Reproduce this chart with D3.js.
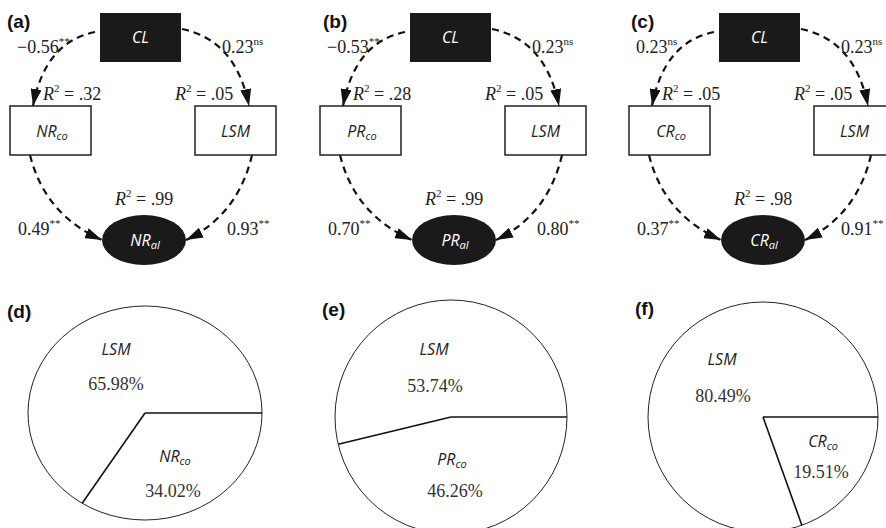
<!DOCTYPE html>
<html><head><meta charset="utf-8">
<script src="https://cdn.jsdelivr.net/npm/d3@7"></script>
<style>body{margin:0;background:#fff} svg{display:block;background:#fff}
.serif{font-family:"Liberation Serif","DejaVu Serif",serif}
.sans{font-family:"Open Sans","Noto Sans","Liberation Sans",sans-serif;font-style:italic}
.bold{font-family:"Liberation Sans",Arial,sans-serif;font-weight:bold}
</style>
</head><body>
<svg id="c" width="886" height="528"></svg>
<script>
// ---- data ----
const panelLabels = ["(a)", "(b)", "(c)"];
const coNames = ["NR", "PR", "CR"];
const clToCo = ["\u22120.56", "\u22120.53", "0.23"];
const clToCoSig = ["**", "**", "ns"];
const clToLsm = ["0.23", "0.23", "0.23"];
const clToLsmSig = ["ns", "ns", "ns"];
const coToAl = ["0.49", "0.70", "0.37"];
const coToAlSig = ["**", "**", "**"];
const lsmToAl = ["0.93", "0.80", "0.91"];
const lsmToAlSig = ["**", "**", "**"];
const r2Co = [".32", ".28", ".05"];
const r2Lsm = [".05", ".05", ".05"];
const r2Al = [".99", ".99", ".98"];
const pieLabels = ["(d)", "(e)", "(f)"];
const pieCoShare = [34.02, 46.26, 19.51];
const pieLsmShare = [65.98, 53.74, 80.49];

// ---- layout ----
const panelX = [0, 310, 619];
const labelX = [7, 323, 631];
const lsmAlX = [227, 227, 222];
const pieC = [[145, 413], [451, 417], [763, 417]];
const pieR = [[117, 107], [116, 117], [115, 115]];
const pieText = [
  {lsm: [-29, -58], lsmP: [-29, -23], co: [30, 49], coP: [28, 84]},
  {lsm: [-17, -62], lsmP: [-16, -25], co: [1, 48], coP: [4, 80]},
  {lsm: [-41, -52], lsmP: [-40, -15], co: [60, 30], coP: [58, 61]}
];

const svg = d3.select("#c");
const defs = svg.append("defs");
defs.append("marker").attr("id", "arr")
  .attr("viewBox", "0 0 17 11").attr("refX", 17).attr("refY", 5.5)
  .attr("markerWidth", 17).attr("markerHeight", 11)
  .attr("markerUnits", "userSpaceOnUse").attr("orient", "auto")
  .append("path").attr("d", "M0,0 L17,5.5 L0,11 Z").attr("fill", "#111");

function sansLabel(g, x, y, main, sub, color, size) {
  const t = g.append("text").attr("class", "sans").attr("x", x).attr("y", y)
    .attr("text-anchor", "middle").style("font-size", size + "px").attr("fill", color);
  t.append("tspan").text(main);
  if (sub) t.append("tspan").style("font-size", Math.round(size * 0.7) + "px").attr("dy", 3).text(sub);
  return t;
}
function coef(g, x, y, val, sig) {
  const t = g.append("text").attr("class", "serif").attr("x", x).attr("y", y)
    .style("font-size", "18px").attr("fill", "#222");
  t.append("tspan").text(val);
  t.append("tspan").style("font-size", "11px").attr("dy", -8).text(sig);
}
function r2(g, x, y, val) {
  const t = g.append("text").attr("class", "serif").attr("x", x).attr("y", y)
    .style("font-size", "18px").attr("fill", "#222");
  t.append("tspan").style("font-style", "italic").text("R");
  t.append("tspan").style("font-size", "11px").attr("dy", -8).text("2");
  t.append("tspan").attr("dy", 8).text(" = " + val);
}

const curve = (p0, c, p1) => `M${p0[0]},${p0[1]} Q${c[0]},${c[1]} ${p1[0]},${p1[1]}`;
const arrows = [
  [[95, 32], [45, 42], [33, 106]],
  [[182, 29], [236, 40], [249, 106]],
  [[30, 155], [45, 215], [102, 240]],
  [[252, 155], [238, 215], [186, 240]]
];

panelLabels.forEach((lab, i) => {
  svg.append("text").attr("class", "bold").attr("x", labelX[i]).attr("y", 28)
    .style("font-size", "19px").attr("fill", "#111").text(lab);
  const g = svg.append("g").attr("transform", `translate(${panelX[i]},0)`);
  arrows.forEach(a => {
    g.append("path").attr("d", curve(a[0], a[1], a[2])).attr("fill", "none")
      .attr("stroke", "#111").attr("stroke-width", 2.2)
      .attr("stroke-dasharray", "7,5").attr("marker-end", "url(#arr)");
  });
  g.append("rect").attr("x", 100).attr("y", 13).attr("width", 81).attr("height", 49).attr("fill", "#1a1a1a");
  g.append("rect").attr("x", 10).attr("y", 106).attr("width", 81).attr("height", 49)
    .attr("fill", "#fff").attr("stroke", "#222").attr("stroke-width", 1.5);
  g.append("rect").attr("x", 195).attr("y", 106).attr("width", 81).attr("height", 49)
    .attr("fill", "#fff").attr("stroke", "#222").attr("stroke-width", 1.5);
  g.append("ellipse").attr("cx", 144).attr("cy", 240).attr("rx", 42).attr("ry", 25).attr("fill", "#1a1a1a");
  sansLabel(g, 140.5, 43, "CL", null, "#fff", 16);
  sansLabel(g, 52, 137, coNames[i], "co", "#222", 16);
  sansLabel(g, 235.5, 137, "LSM", null, "#222", 16);
  sansLabel(g, 145, 246, coNames[i], "al", "#fff", 16);
  coef(g, 17, 53, clToCo[i], clToCoSig[i]);
  coef(g, 222, 53, clToLsm[i], clToLsmSig[i]);
  r2(g, 43, 100, r2Co[i]);
  r2(g, 175, 100, r2Lsm[i]);
  r2(g, 115, 205, r2Al[i]);
  coef(g, 18, 235, coToAl[i], coToAlSig[i]);
  coef(g, lsmAlX[i], 235, lsmToAl[i], lsmToAlSig[i]);
});

// ---- pies ----
const pie = d3.pie().sort(null).value(d => d.v)
  .startAngle(Math.PI / 2).endAngle(Math.PI / 2 + 2 * Math.PI);
const arc = d3.arc().innerRadius(0).outerRadius(1);
const fmt = d3.format(".2f");

pieLabels.forEach((lab, i) => {
  svg.append("text").attr("class", "bold").attr("x", [7, 322, 635][i]).attr("y", [318, 316, 315][i])
    .style("font-size", "19px").attr("fill", "#111").text(lab);
  const [cx, cy] = pieC[i], [rx, ry] = pieR[i];
  const data = [{k: "co", v: pieCoShare[i]}, {k: "lsm", v: pieLsmShare[i]}];
  const arcs = pie(data);
  const g = svg.append("g").attr("transform", `translate(${cx},${cy})`);
  g.append("g").attr("transform", `scale(${rx},${ry})`).selectAll("path").data(arcs).join("path")
    .attr("d", arc).attr("fill", "#fff");
  g.append("ellipse").attr("rx", rx).attr("ry", ry).attr("fill", "none")
    .attr("stroke", "#222").attr("stroke-width", 1);
  arcs.forEach(a => {
    g.append("line").attr("x1", 0).attr("y1", 0)
      .attr("x2", Math.sin(a.startAngle) * rx).attr("y2", -Math.cos(a.startAngle) * ry)
      .attr("stroke", "#111").attr("stroke-width", 1.6);
  });
  const L = pieText[i];
  sansLabel(g, L.lsm[0], L.lsm[1], "LSM", null, "#222", 16);
  g.append("text").attr("class", "serif").attr("x", L.lsmP[0]).attr("y", L.lsmP[1]).attr("text-anchor", "middle")
    .style("font-size", "18px").attr("fill", "#333").text(fmt(pieLsmShare[i]) + "%");
  sansLabel(g, L.co[0], L.co[1], coNames[i], "co", "#222", 16);
  g.append("text").attr("class", "serif").attr("x", L.coP[0]).attr("y", L.coP[1]).attr("text-anchor", "middle")
    .style("font-size", "18px").attr("fill", "#333").text(fmt(pieCoShare[i]) + "%");
});
</script>
</body></html>
